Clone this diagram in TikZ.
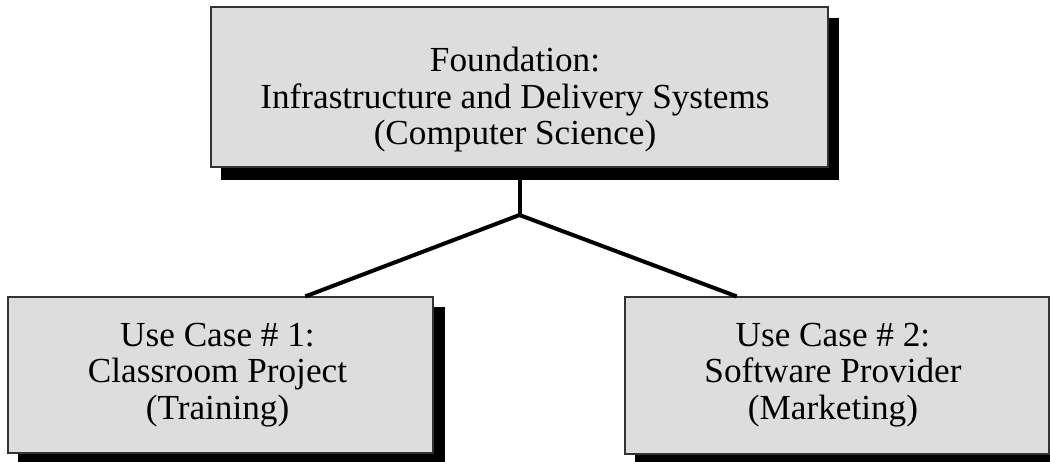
\documentclass[tikz,border=0pt]{standalone}
\usepackage{fontspec}
\setmainfont{Liberation Serif}
\usetikzlibrary{calc}

\definecolor{boxgray}{HTML}{DDDDDD}

\tikzset{
  card/.style={rectangle, fill=boxgray, draw=black!80, line width=1.2pt,
    inner sep=0pt},
  cardtext/.style={inner sep=0pt, align=center,
    font=\fontsize{35.2}{36.5}\selectfont},
  cardshadow/.style={fill=black},
  link/.style={line width=4pt, draw=black}
}

\begin{document}
\begin{tikzpicture}[x=1pt, y=-1pt]
  \useasboundingbox (0,0) rectangle (1050,462);

  % drop shadows under the three boxes
  \fill[cardshadow] (221,18) rectangle (839,180);
  \fill[cardshadow] (18,307) rectangle (445,466);
  \fill[cardshadow] (635,307) rectangle (1060,466);

  % tree connectors
  \coordinate (j) at (519.5,215);
  \coordinate (topfoot) at (519.5,178);

  % boxes
  \node[card, minimum width=617pt, minimum height=160pt] (found) at (519.5,87) {};
  \node[card, minimum width=425pt, minimum height=156pt] (uc1) at (220.5,375) {};
  \node[card, minimum width=424pt, minimum height=157pt] (uc2) at (837,375.5) {};

  % box captions
  \node[cardtext] (found-t) at (515,100)
    {Foundation:\\Infrastructure and Delivery Systems\\(Computer Science)};
  \node[cardtext] (uc1-t) at (217.5,375)
    {Use Case \# 1:\\Classroom Project\\(Training)};
  \node[cardtext] (uc2-t) at (833,375)
    {Use Case \# 2:\\Software Provider\\(Marketing)};

  \draw[link] (topfoot) -- (j);
  \draw[link] (j) -- ($(uc1.north west)!0.699!(uc1.north east)$);
  \draw[link] (j) -- ($(uc2.north west)!0.264!(uc2.north east)$);
\end{tikzpicture}
\end{document}
